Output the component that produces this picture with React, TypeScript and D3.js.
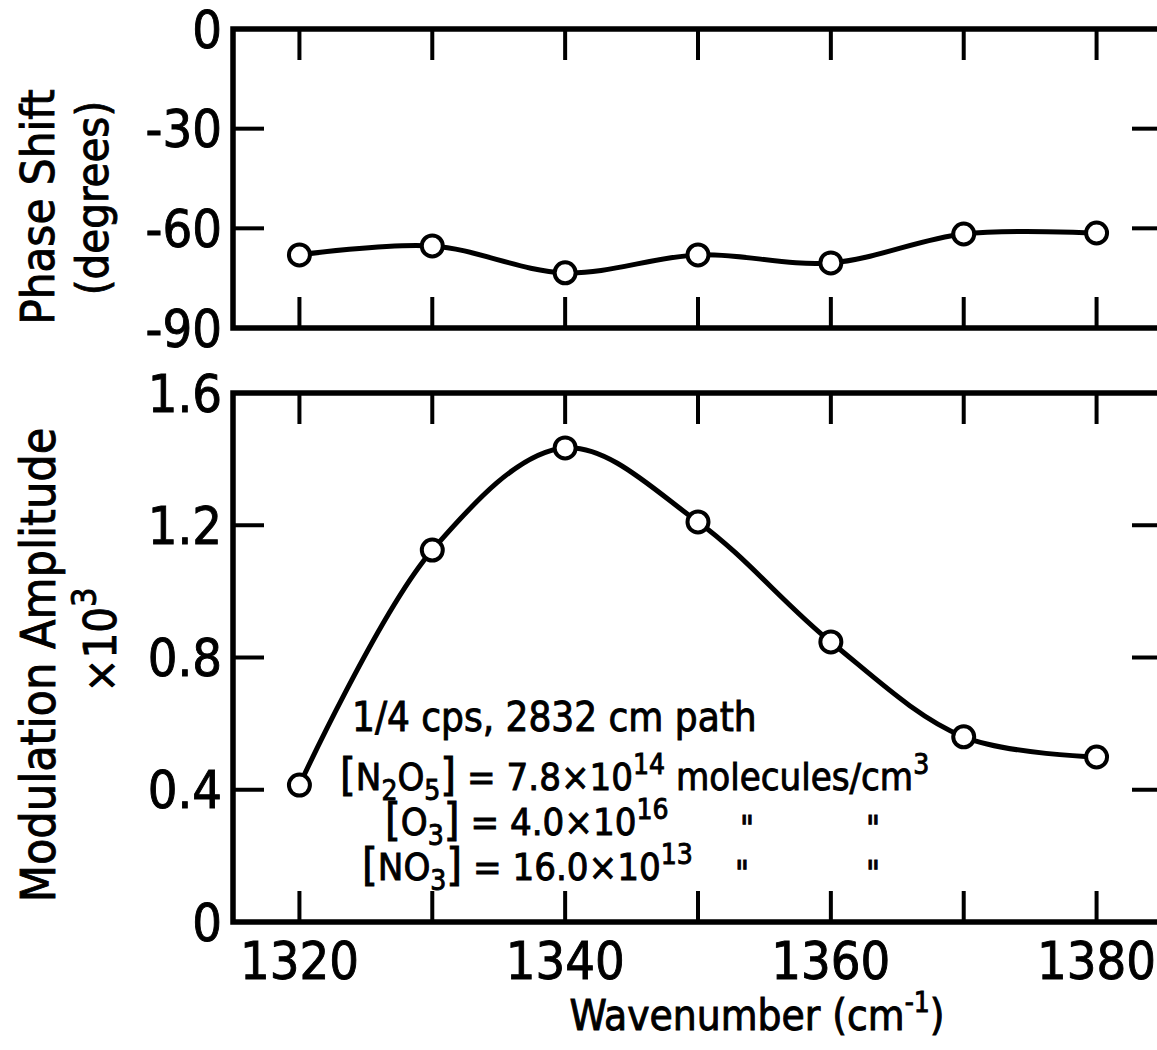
import * as d3 from 'd3';
import React from 'react';

// wavenumber (cm^-1) of each measured point
const wavenumbers = [1320, 1330, 1340, 1350, 1360, 1370, 1380];
// phase shift in degrees
const phaseShift = [-68.0, -65.3, -73.4, -68.0, -70.4, -61.7, -61.4];
// modulation amplitude x10^3
const amplitude = [0.414, 1.125, 1.434, 1.21, 0.847, 0.56, 0.499];

const xTicks = [1320, 1330, 1340, 1350, 1360, 1370, 1380];
const xTickLabels = ['1320', '1340', '1360', '1380'];
const phaseTicks = [0, -30, -60, -90];
const phaseTickLabels = ['0', '-30', '-60', '-90'];
const ampTicks = [0, 0.4, 0.8, 1.2, 1.6];
const ampTickLabels = ['0', '0.4', '0.8', '1.2', '1.6'];

const FONT = "'DejaVu Sans Condensed', 'Liberation Sans Narrow', 'DejaVu Sans', sans-serif";
const W = 1157;
const H = 1050;
const TICK = 31;

export default function App() {
    const x = d3.scaleLinear().domain([1315, 1385]).range([233, 1163]);
    const yPhase = d3.scaleLinear().domain([-90, 0]).range([328, 29]);
    const yAmp = d3.scaleLinear().domain([0, 1.6]).range([922, 393]);

    const phasePts = wavenumbers.map((w, i) => [w, phaseShift[i]] as [number, number]);
    const ampPts = wavenumbers.map((w, i) => [w, amplitude[i]] as [number, number]);

    const phaseLine = d3.line<[number, number]>()
        .x(d => x(d[0]))
        .y(d => yPhase(d[1]))
        .curve(d3.curveCatmullRom.alpha(0.5));
    const ampLine = d3.line<[number, number]>()
        .x(d => x(d[0]))
        .y(d => yAmp(d[1]))
        .curve(d3.curveCatmullRom.alpha(0.5));

    const [x0, x1] = x.range();

    // frame + inside ticks for one panel
    const panel = (y: d3.ScaleLinear<number, number>, yTicks: number[], key: string) => {
        const [yb, yt] = y.range();
        const inner = yTicks.filter(v => v !== y.domain()[0] && v !== y.domain()[1]);
        return (
            <g key={key}>
                <path d={`M${x1},${yt} H${x0} V${yb} H${x1} V${yt}`} fill="none" stroke="#000" strokeWidth={5.5} />
                {xTicks.map(t => (
                    <g key={t}>
                        <line x1={x(t)} x2={x(t)} y1={yt} y2={yt + TICK} stroke="#000" strokeWidth={4} />
                        <line x1={x(t)} x2={x(t)} y1={yb} y2={yb - TICK} stroke="#000" strokeWidth={4} />
                    </g>
                ))}
                {inner.map(v => (
                    <g key={v}>
                        <line x1={x0} x2={x0 + TICK} y1={y(v)} y2={y(v)} stroke="#000" strokeWidth={4} />
                        <line x1={x1} x2={x1 - TICK} y1={y(v)} y2={y(v)} stroke="#000" strokeWidth={4} />
                    </g>
                ))}
            </g>
        );
    };

    const ink = { stroke: '#000', strokeWidth: 0.9 };

    return (
        <svg width={W} height={H} style={{ position: 'absolute', left: 0, top: 0, background: '#fff' }}
            fontFamily={FONT}>
            <rect width={W} height={H} fill="#fff" />

            {panel(yPhase, phaseTicks, 'phase')}
            {panel(yAmp, ampTicks, 'amp')}

            {/* y tick labels */}
            {phaseTicks.map((v, i) => (
                <text key={v} x={222} y={yPhase(v)} dy="0.36em" textAnchor="end" fontSize={52} {...ink}>
                    {phaseTickLabels[i]}
                </text>
            ))}
            {ampTicks.map((v, i) => (
                <text key={v} x={222} y={yAmp(v)} dy="0.36em" textAnchor="end" fontSize={52} {...ink}>
                    {ampTickLabels[i]}
                </text>
            ))}

            {/* x tick labels */}
            {xTickLabels.map(l => (
                <text key={l} x={x(+l)} y={979} textAnchor="middle" fontSize={52} {...ink}>{l}</text>
            ))}

            {/* axis titles */}
            <text transform="translate(54,207) rotate(-90)" textAnchor="middle" fontSize={47} {...ink}>Phase Shift</text>
            <text transform="translate(108,198) rotate(-90)" textAnchor="middle" fontSize={45} {...ink}>(degrees)</text>
            <text transform="translate(55,665) rotate(-90)" textAnchor="middle" fontSize={48} {...ink}>Modulation Amplitude</text>
            <text transform="translate(116,640) rotate(-90)" textAnchor="middle" fontSize={45} {...ink}>
                ×10<tspan dy={-20} fontSize={34}>3</tspan>
            </text>
            <text x={757} y={1030} textAnchor="middle" fontSize={42} {...ink}>
                Wavenumber (cm<tspan dy={-18} fontSize={28}>-1</tspan><tspan dy={18}>)</tspan>
            </text>

            {/* curves */}
            <path d={phaseLine(phasePts) ?? ''} fill="none" stroke="#000" strokeWidth={5} />
            <path d={ampLine(ampPts) ?? ''} fill="none" stroke="#000" strokeWidth={5} />
            {phasePts.map(d => (
                <circle key={'p' + d[0]} cx={x(d[0])} cy={yPhase(d[1])} r={10.5} fill="#fff" stroke="#000" strokeWidth={4} />
            ))}
            {ampPts.map(d => (
                <circle key={'a' + d[0]} cx={x(d[0])} cy={yAmp(d[1])} r={10.5} fill="#fff" stroke="#000" strokeWidth={4} />
            ))}

            {/* annotation */}
            <g fontSize={38} {...ink}>
                <text x={352} y={731} fontSize={40}>1/4 cps, 2832 cm path</text>
                <text x={340} y={790}>
                    <tspan fontSize={45}>[</tspan>N<tspan dy={10} fontSize={28}>2</tspan>
                    <tspan dy={-10}>O</tspan><tspan dy={10} fontSize={28}>5</tspan>
                    <tspan dy={-10} fontSize={45}>]</tspan>
                    <tspan>{' = 7.8×10'}</tspan><tspan dy={-16} fontSize={28}>14</tspan>
                    <tspan dy={16}>{' molecules/cm'}</tspan><tspan dy={-16} fontSize={28}>3</tspan>
                </text>
                <text x={385} y={835}>
                    <tspan fontSize={45}>[</tspan>O<tspan dy={10} fontSize={28}>3</tspan>
                    <tspan dy={-10} fontSize={45}>]</tspan>
                    <tspan>{' = 4.0×10'}</tspan><tspan dy={-16} fontSize={28}>16</tspan>
                </text>
                <text x={362} y={880}>
                    <tspan fontSize={45}>[</tspan>NO<tspan dy={10} fontSize={28}>3</tspan>
                    <tspan dy={-10} fontSize={45}>]</tspan>
                    <tspan>{' = 16.0×10'}</tspan><tspan dy={-16} fontSize={28}>13</tspan>
                </text>
                <text x={740} y={840} fontSize={34}>"</text>
                <text x={866} y={840} fontSize={34}>"</text>
                <text x={735} y={885} fontSize={34}>"</text>
                <text x={866} y={885} fontSize={34}>"</text>
            </g>
        </svg>
    );
}
